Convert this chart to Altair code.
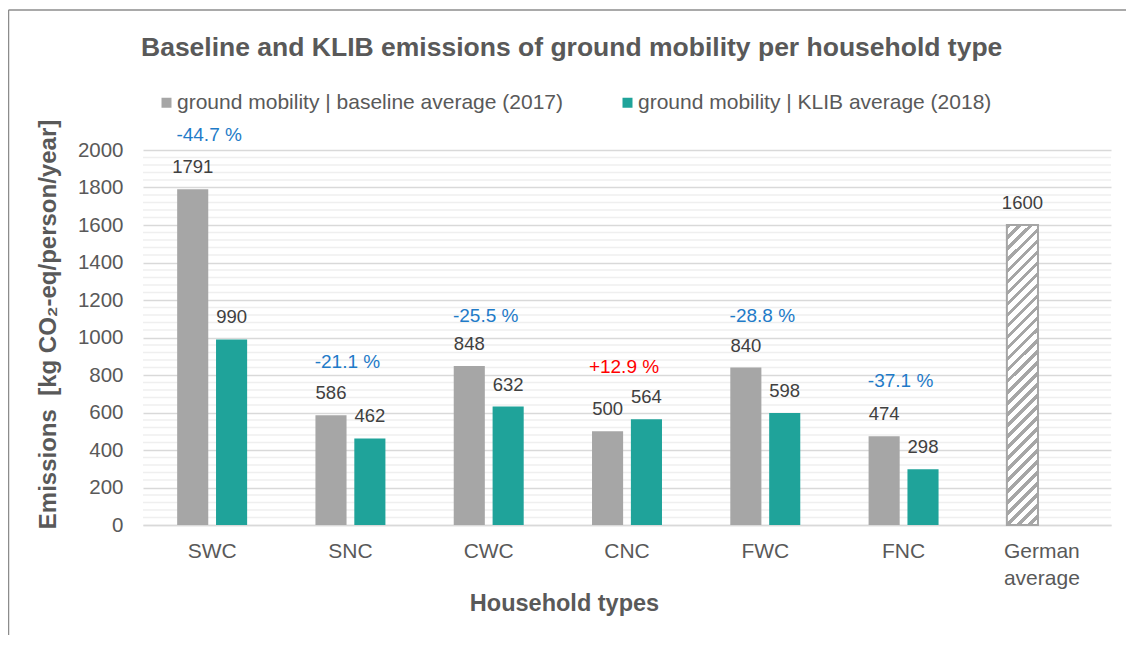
import altair as alt
import pandas as pd

# ---------------- data ----------------
categories = ["SWC", "SNC", "CWC", "CNC", "FWC", "FNC", "German average"]
groups = ["SWC", "SNC", "CWC", "CNC", "FWC", "FNC"]
series_names = [
    "ground mobility | baseline average (2017)",
    "ground mobility | KLIB average (2018)",
]
baseline_values = [1791, 586, 848, 500, 840, 474]
klib_values = [990, 462, 632, 564, 598, 298]
german_category = "German average"
german_value = 1600
change_labels = ["-44.7 %", "-21.1 %", "-25.5 %", "+12.9 %", "-28.8 %", "-37.1 %"]
change_label_heights = [2048, 837, 1081, 811, 1081, 734]
y_ticks = [0, 200, 400, 600, 800, 1000, 1200, 1400, 1600, 1800, 2000]
minor_grid = [v for v in range(40, 2000, 40) if v % 200 != 0]

# ---------------- style ----------------
GRAY = "#A6A6A6"
TEAL = "#1FA39A"
TXT = "#595959"
LBL = "#404040"
BLUE = "#1F7BC8"
RED = "#FF0000"
FONT = "Liberation Sans"

rows = []
for g, b, k in zip(groups, baseline_values, klib_values):
    rows.append({"category": g, "series": series_names[0], "value": b, "label": str(b)})
    rows.append({"category": g, "series": series_names[1], "value": k, "label": str(k)})
bars_df = pd.DataFrame(rows)
german_df = pd.DataFrame([{"category": german_category, "series": series_names[0],
                           "value": german_value, "label": str(german_value)}])
labels_df = pd.concat([bars_df, german_df], ignore_index=True)
ann_df = pd.DataFrame({"category": groups, "value": change_label_heights, "text": change_labels,
                       "up": [t.startswith("+") for t in change_labels]})
minor_df = pd.DataFrame({"value": minor_grid})

x_enc = alt.X(
    "category:N",
    scale=alt.Scale(domain=categories, paddingInner=0.494, paddingOuter=0.247),
    axis=alt.Axis(
        title="Household types",
        labelExpr="datum.value == 'German average' ? ['German', 'average'] : datum.value",
        labelAngle=0, labelFontSize=21, labelColor=TXT, labelPadding=32,
        labelBaseline="alphabetic", labelLineHeight=27,
        ticks=False, domainColor="#D9D9D9", domainWidth=1.5, grid=False,
        titleFontSize=23.5, titleFontWeight="bold", titleColor=TXT,
        titleX=421, titleY=85, titleBaseline="alphabetic", titleAlign="center",
    ),
)
y_enc = alt.Y(
    "value:Q",
    scale=alt.Scale(domain=[0, 2000], nice=False, zero=True),
    axis=alt.Axis(
        values=y_ticks, format="d", title="Emissions\u00a0\u00a0[kg CO₂-eq/person/year]",
        labelFontSize=20.5, labelColor=TXT, labelPadding=20, ticks=False, domain=False,
        gridColor="#D9D9D9", gridWidth=1.5,
        titleFontSize=24, titleFontWeight="bold", titleColor=TXT,
        titleAngle=270, titleX=-88, titleY=174, titleAlign="center", titleBaseline="alphabetic",
    ),
)
xoff_enc = alt.XOffset("series:N", scale=alt.Scale(domain=series_names, paddingInner=0.2, paddingOuter=0))

one = alt.Data(values=[{"k": 1}])
border_left = alt.Chart(one).mark_rule(color="#8C8C8C", strokeWidth=1.5).encode(
    x=alt.value(-134.5), y=alt.value(-140), y2=alt.value(495))
border_top = alt.Chart(one).mark_rule(color="#8C8C8C", strokeWidth=1.5).encode(
    y=alt.value(-140), x=alt.value(-134.5), x2=alt.value(990))

minor = alt.Chart(minor_df).mark_rule(color="#EFEFEF", strokeWidth=1.5).encode(y=y_enc)

bars = alt.Chart(bars_df).mark_bar().encode(
    x=x_enc, xOffset=xoff_enc, y=y_enc,
    color=alt.Color("series:N", scale=alt.Scale(domain=series_names, range=[GRAY, TEAL]),
                    legend=alt.Legend(title=None)),
)

# diagonal hatch as a striped linear gradient
n_stripes = 30
stops = []
for i in range(n_stripes):
    a = i / n_stripes
    b = (i + 0.42) / n_stripes
    c = (i + 1) / n_stripes
    stops += [alt.GradientStop(color=GRAY, offset=a), alt.GradientStop(color=GRAY, offset=b),
              alt.GradientStop(color="#FFFFFF", offset=b), alt.GradientStop(color="#FFFFFF", offset=c)]
hatch = alt.LinearGradient(gradient="linear", stops=stops, x1=0, y1=0, x2=0.1128, y2=1.0917)

german = alt.Chart(german_df).mark_bar(fill=hatch, stroke=GRAY, strokeWidth=2).encode(
    x=x_enc, xOffset=xoff_enc, y=y_enc)

value_labels = alt.Chart(labels_df).mark_text(
    baseline="alphabetic", dy=-16, fontSize=18.5, color=LBL, font=FONT
).encode(x=x_enc, xOffset=xoff_enc, y=y_enc, text="label:N")

ann = alt.Chart(ann_df).mark_text(
    baseline="alphabetic", fontSize=19, dx=-3, font=FONT
).encode(
    x=x_enc, y=y_enc, text="text:N",
    color=alt.condition("datum.up", alt.value(RED), alt.value(BLUE)),
)

chart = alt.layer(border_left, border_top, minor, bars, german, value_labels, ann).properties(
    width=968, height=375,
    title=alt.TitleParams(
        "Baseline and KLIB emissions of ground mobility per household type",
        anchor="start", frame="group", fontSize=26.5, fontWeight="bold", color=TXT,
        font=FONT, dx=-2, dy=73, offset=0, baseline="alphabetic",
    ),
    autosize=alt.AutoSizeParams(type="none"),
    padding={"left": 135, "top": 142, "right": 15, "bottom": 110},
).configure(
    font=FONT, background="white",
).configure_view(stroke=None).configure_legend(
    orient="none", legendX=13, legendY=-58, direction="horizontal",
    symbolType="square", symbolSize=100, symbolStrokeWidth=0,
    labelFontSize=21, labelColor=TXT, labelFont=FONT, labelOffset=0,
    columnPadding=53, labelLimit=600,
)

chart.save("out.html", embed_options={"renderer": "svg", "actions": False})
